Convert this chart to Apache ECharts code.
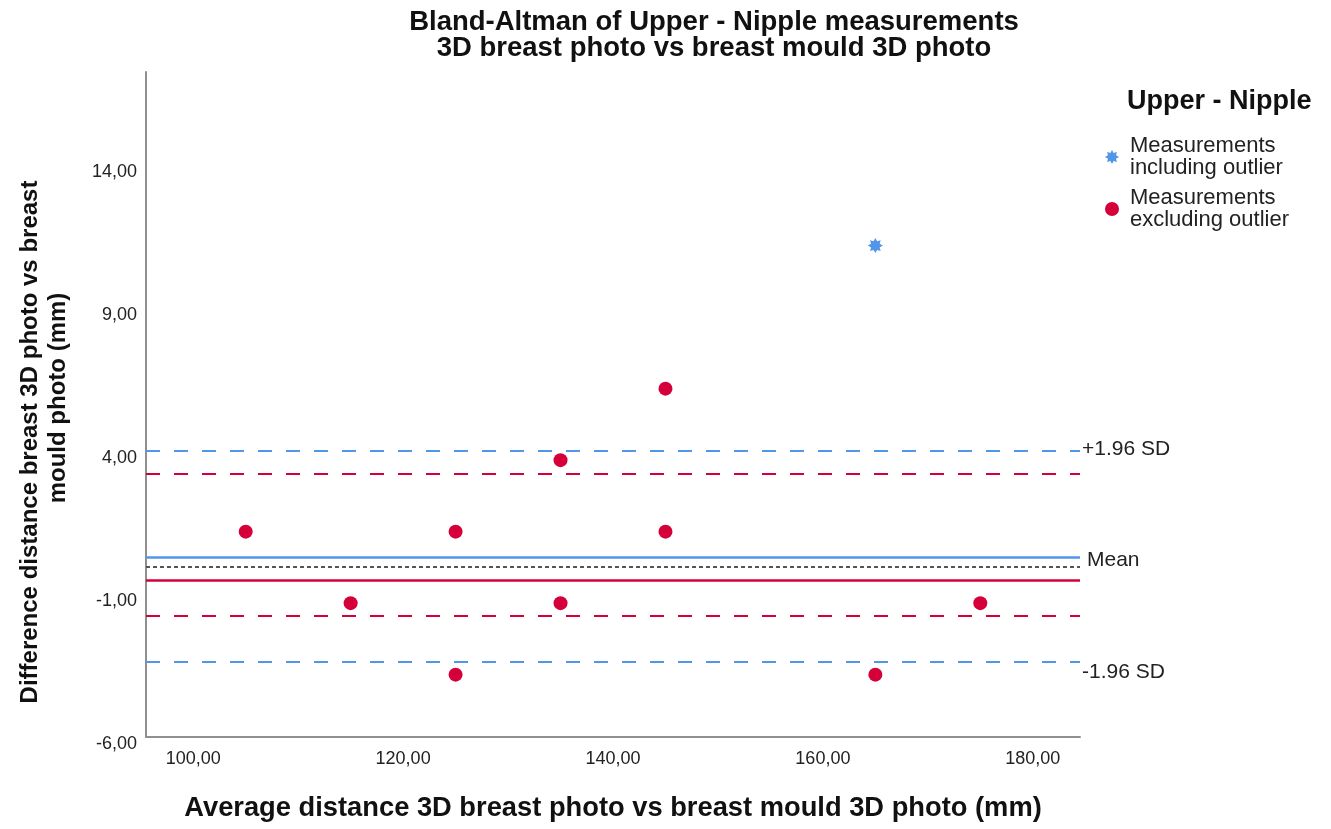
<!DOCTYPE html>
<html>
<head>
<meta charset="utf-8">
<script src="https://cdn.jsdelivr.net/npm/echarts@6/dist/echarts.min.js"></script>
<style>
html,body{margin:0;padding:0;background:#fff;}
#chart{width:1331px;height:829px;}
</style>
</head>
<body>
<div id="chart"></div>
<script>
// ---- data ----
const redX = [105, 125, 145, 135, 145, 115, 135, 175, 125, 165];
const redY = [1.18, 1.18, 1.18, 3.68, 6.18, -1.32, -1.32, -1.32, -3.82, -3.82];
const blueX = [165];
const blueY = [11.18];
const blueLines = [4.0, 0.30, -3.37];      // +1.96 SD, mean, -1.96 SD (including outlier)
const redLines = [3.19, -0.52, -1.76];     // upper, mean, lower (excluding outlier)
const zeroLine = [-0.05];
const lineLabels = ['+1.96 SD', 'Mean', '-1.96 SD'];
const seriesNames = ['Measurements\nincluding outlier', 'Measurements\nexcluding outlier'];
const titleLines = ['Bland-Altman of Upper - Nipple measurements', '3D breast photo vs breast mould 3D photo'];
const yTitleLines = ['Difference distance breast 3D photo vs breast', 'mould photo (mm)'];
const xTitle = 'Average distance 3D breast photo vs breast mould 3D photo (mm)';
const legendTitle = 'Upper - Nipple';

const FONT = '"Liberation Sans", Arial, sans-serif';
const BLUE = '#5196e8';
const RED = '#d5003a';
const X_MIN = 95.5, X_MAX = 184.5;

function starPath(n, rO, rI) {
  let p = '';
  for (let i = 0; i < 2 * n; i++) {
    const r = i % 2 ? rI : rO;
    const a = Math.PI * i / n - Math.PI / 2;
    p += (i ? 'L' : 'M') + (r * Math.cos(a)).toFixed(2) + ' ' + (r * Math.sin(a)).toFixed(2) + ' ';
  }
  return 'path://' + p + 'Z';
}
const STAR = starPath(8, 10, 6.2);
const fmt = v => v.toFixed(2).replace('.', ',');

const blueMark = blueLines.map((v, i) => ({
  yAxis: v,
  lineStyle: { color: BLUE, width: i === 1 ? 2.5 : 2, type: i === 1 ? 'solid' : [14, 14] },
  label: { show: false }
}));
const redMark = redLines.map((v, i) => ({
  yAxis: v,
  lineStyle: { color: RED, width: i === 1 ? 2.5 : 2, type: i === 1 ? 'solid' : [14, 14] },
  label: { show: false }
})).concat(zeroLine.map(v => ({
  yAxis: v,
  lineStyle: { color: '#555', width: 2, type: [4, 3] },
  label: { show: false }
})));

const chart = echarts.init(document.getElementById('chart'), null, { renderer: 'canvas' });
chart.setOption({
  backgroundColor: '#fff',
  animation: false,
  title: {
    text: titleLines.join('\n'),
    left: 714, top: 9, textAlign: 'center', padding: 0,
    textStyle: { fontFamily: FONT, fontSize: 27.5, fontWeight: 'bold', color: '#111', lineHeight: 26 }
  },
  grid: { left: 146, right: 251, top: 72, bottom: 92 },
  xAxis: {
    type: 'value', min: X_MIN, max: X_MAX,
    name: xTitle, nameLocation: 'middle', nameGap: 58,
    nameTextStyle: { fontFamily: FONT, fontSize: 27.3, fontWeight: 'bold', color: '#111' },
    axisLine: { show: true, onZero: false, lineStyle: { color: '#8f8f8f', width: 2 } },
    axisTick: { show: false },
    splitLine: { show: false },
    axisLabel: {
      margin: 13, fontFamily: FONT, fontSize: 18, color: '#222',
      showMinLabel: false, showMaxLabel: false,
      formatter: v => (Math.abs(v % 20) < 1e-6 ? fmt(v) : '')
    }
  },
  yAxis: {
    type: 'value', min: -6, max: 17.25, interval: 5,
    axisLine: { show: true, onZero: false, lineStyle: { color: '#8f8f8f', width: 2 } },
    axisTick: { show: false },
    splitLine: { show: false },
    axisLabel: {
      margin: 9, fontFamily: FONT, fontSize: 18, color: '#222',
      verticalAlign: 'top', lineHeight: 14, showMaxLabel: false,
      formatter: v => (Math.abs(((v + 6) % 5)) < 1e-6 ? fmt(v) : '')
    }
  },
  legend: {
    orient: 'vertical', left: 1105, top: 135, padding: 0,
    itemWidth: 14, itemHeight: 14, itemGap: 8,
    data: [
      { name: seriesNames[0], icon: STAR },
      { name: seriesNames[1], icon: 'circle' }
    ],
    textStyle: { fontFamily: FONT, fontSize: 22, color: '#222', lineHeight: 22, padding: [0, 0, 0, 6] },
    selectedMode: false
  },
  graphic: [
    {
      id: 'lt', type: 'text', x: 1127, y: 102,
      style: { text: legendTitle, font: 'bold 27px ' + FONT, fill: '#111', align: 'left', verticalAlign: 'middle' }
    },
    {
      id: 'yt1', type: 'text', x: 30, y: 442, rotation: Math.PI / 2,
      style: { text: yTitleLines[0], font: 'bold 24px ' + FONT, fill: '#111', align: 'center', verticalAlign: 'middle' }
    },
    {
      id: 'yt2', type: 'text', x: 58, y: 398, rotation: Math.PI / 2,
      style: { text: yTitleLines[1], font: 'bold 24px ' + FONT, fill: '#111', align: 'center', verticalAlign: 'middle' }
    }
  ],
  series: [
    {
      name: seriesNames[0], type: 'scatter', symbol: STAR, symbolSize: 15,
      itemStyle: { color: BLUE, opacity: 1 },
      data: blueX.map((x, i) => [x, blueY[i]]),
      markLine: { silent: true, symbol: 'none', animation: false, data: blueMark },
      z: 3
    },
    {
      name: seriesNames[1], type: 'scatter', symbol: 'circle', symbolSize: 14,
      itemStyle: { color: RED, opacity: 1 },
      data: redX.map((x, i) => [x, redY[i]]),
      markLine: { silent: true, symbol: 'none', animation: false, data: redMark },
      z: 4
    }
  ]
});

// labels at the right end of the blue reference lines, placed through the axis scale
const labelDx = [2, 7, 2];
const labelDy = [-2, 3, 10];
chart.setOption({
  graphic: blueLines.map((v, i) => {
    const p = chart.convertToPixel({ gridIndex: 0 }, [X_MAX, v]);
    return {
      id: 'll' + i, type: 'text', x: p[0] + labelDx[i], y: p[1] + labelDy[i],
      style: { text: lineLabels[i], font: '21px ' + FONT, fill: '#222', align: 'left', verticalAlign: 'middle' }
    };
  })
});
</script>
</body>
</html>
